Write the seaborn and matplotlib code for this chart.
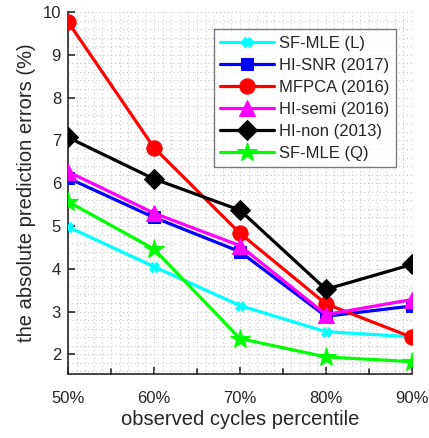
import numpy as np
import pandas as pd
import matplotlib
matplotlib.use("Agg")
import matplotlib.pyplot as plt
from matplotlib.ticker import MultipleLocator
import seaborn as sns

# observed cycles percentile (x axis)
percentiles = [50, 60, 70, 80, 90]
tick_labels = ["50%", "60%", "70%", "80%", "90%"]

# absolute prediction errors (%) per method
sf_mle_l = [4.98, 4.05, 3.14, 2.53, 2.41]
hi_snr = [6.12, 5.20, 4.40, 2.89, 3.13]
mfpca = [9.77, 6.83, 4.83, 3.18, 2.40]
hi_semi = [6.27, 5.30, 4.54, 2.93, 3.28]
hi_non = [7.07, 6.10, 5.37, 3.52, 4.10]
sf_mle_q = [5.57, 4.46, 2.37, 1.94, 1.83]

methods = ["SF-MLE (L)", "HI-SNR (2017)", "MFPCA (2016)",
           "HI-semi (2016)", "HI-non (2013)", "SF-MLE (Q)"]
series = [sf_mle_l, hi_snr, mfpca, hi_semi, hi_non, sf_mle_q]

colors = ["#00FFFF", "#0000FF", "#FF0000", "#FF00FF", "#000000", "#00FF00"]
markers = ["X", "s", "o", "^", "D", "*"]
msizes = [7, 9, 11, 12, 10, 15]

sns.set_theme(style="white")
plt.rcParams["font.family"] = ["Liberation Sans", "DejaVu Sans"]

fig = plt.figure(figsize=(4.29, 4.38), dpi=100)
ax = fig.add_axes([0.1585, 0.146, 0.8015, 0.8266])

for name, vals, c, m, ms in zip(methods, series, colors, markers, msizes):
    df = pd.DataFrame({"x": percentiles, "y": vals})
    sns.lineplot(data=df, x="x", y="y", ax=ax, color=c, marker=m,
                 markersize=ms, markeredgecolor=c, markerfacecolor=c,
                 linewidth=2.3, label=name, zorder=3)

ax.set_xlim(50, 90)
ax.set_ylim(1.54, 10)
ax.set_xticks(percentiles)
ax.set_xticklabels(tick_labels)
ax.xaxis.set_minor_locator(MultipleLocator(1))
ax.yaxis.set_major_locator(MultipleLocator(1))
ax.yaxis.set_minor_locator(MultipleLocator(0.2))

# dotted major/minor grid
ax.grid(which="both", linestyle=(0, (1, 2.5)), color="#c8c8c8", linewidth=0.8, zorder=0)
ax.set_axisbelow(True)

# inward tick marks
ax.tick_params(axis="both", which="major", direction="in", length=5, width=1.2,
               labelsize=12, labelcolor="#262626", color="#262626",
               bottom=True, left=True)
ax.tick_params(axis="x", which="major", pad=12)
ax.tick_params(axis="y", which="major", pad=5)
ax.tick_params(axis="both", which="minor", length=0)
for x in [55, 65, 75, 85]:
    ax.plot([x, x], [1.54, 1.54 + 0.12], color="#262626", lw=1.2,
            clip_on=False, zorder=4)

for side in ["top", "right"]:
    ax.spines[side].set_visible(False)
for side in ["left", "bottom"]:
    ax.spines[side].set_color("#262626")
    ax.spines[side].set_linewidth(1.2)

ax.set_xlabel("observed cycles percentile", fontsize=14.5, color="#262626", labelpad=3)
ax.set_ylabel("the absolute prediction errors (%)", fontsize=14.5, color="#262626", labelpad=5)

leg = ax.legend(loc="upper right", bbox_to_anchor=(0.953, 0.953), fontsize=12,
                frameon=True, fancybox=False, edgecolor="#5a5a5a",
                handlelength=3.2, handletextpad=0.3, borderpad=0.4,
                labelspacing=0.42, borderaxespad=0)
leg.get_frame().set_linewidth(1.0)
leg.set_zorder(5)

fig.savefig("out.png", dpi=100)
